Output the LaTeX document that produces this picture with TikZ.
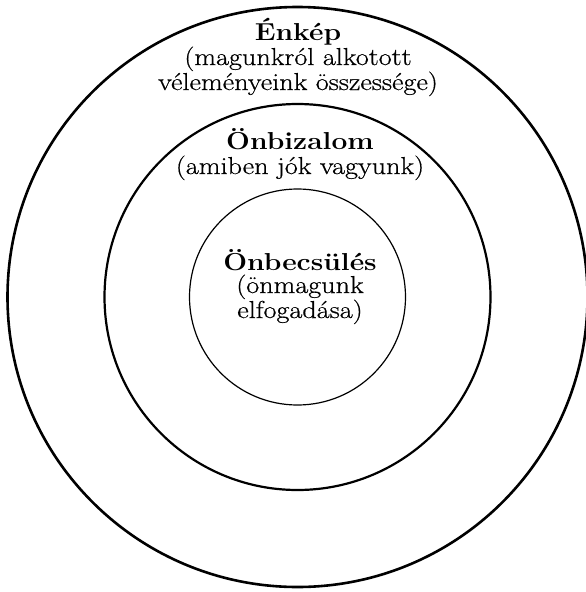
\documentclass[tikz,border=0pt]{standalone}
\usepackage{fontspec}
\setmainfont{Latin Modern Roman}[FakeStretch=1.15, UprightFeatures={FakeBold=0.6}]
\usepackage{tikz}
\usetikzlibrary{positioning}

\begin{document}
\begin{tikzpicture}[
	  x=1pt, y=-1pt,
	  ring/.style={draw, black},
	  title/.style={font=\fontsize{24.5}{25}\selectfont\bfseries, anchor=base, inner sep=0pt},
	  sub/.style={font=\fontsize{24.5}{25}\selectfont, align=center, anchor=base, inner sep=0pt}
	]
	
	\useasboundingbox (0,0) rectangle (586,592);
	\coordinate (ctr) at (297.5,297);
	
	\draw[ring, line width=2.6pt] (ctr) circle (290);
	\draw[ring, line width=2.2pt] (ctr) circle (193);
	\draw[ring, line width=1.2pt] (ctr) circle (108);
	
	\node[title] (enkep) at (298,40) {Énkép};
	\node[sub] (enkepsub) at ([yshift=-50pt]enkep.base) {(magunkról alkotott\\véleményeink összessége)};
	
	\node[title] (onbizalom) at (300,149) {Önbizalom};
	\node[sub] (onbizalomsub) at ([yshift=-25pt]onbizalom.base) {(amiben jók vagyunk)};
	
	\node[title] (onbecsules) at (300,270) {Önbecsülés};
	\node[sub] (onbecsulessub) at ([yshift=-48pt]onbecsules.base) {(önmagunk\\elfogadása)};
	
	\end{tikzpicture}
\end{document}
